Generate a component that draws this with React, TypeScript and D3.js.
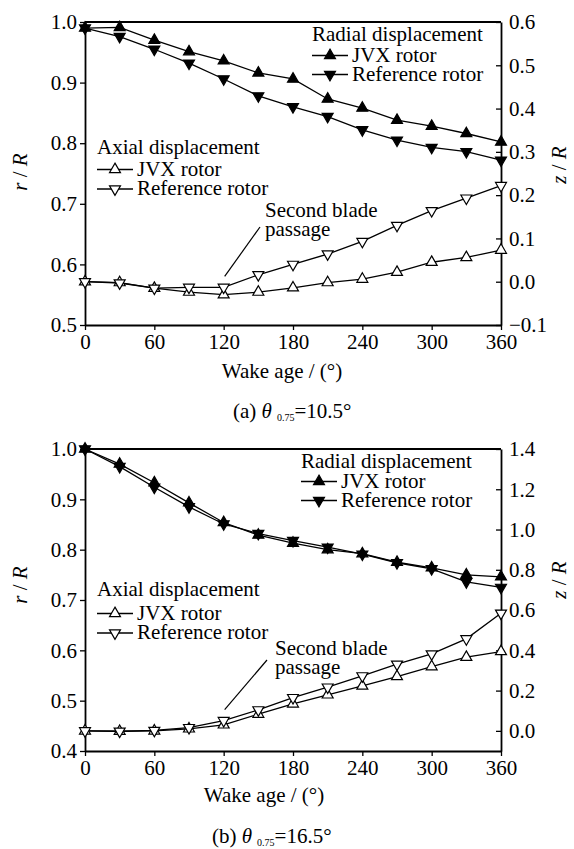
import React, { useEffect, useRef } from 'react';
import * as d3 from 'd3';

// wake age (deg) for every marker
const wakeAge = [0, 30, 60, 90, 120, 150, 180, 210, 240, 270, 300, 330, 360];
const xTicks = [0, 60, 120, 180, 240, 300, 360];

// (a) theta 0.75 = 10.5 deg
const radialJvxA = [0.99, 0.991, 0.97, 0.951, 0.936, 0.916, 0.906, 0.873, 0.858, 0.838, 0.828, 0.816, 0.802];
const radialRefA = [0.99, 0.976, 0.955, 0.932, 0.906, 0.878, 0.86, 0.844, 0.822, 0.805, 0.793, 0.786, 0.772];
const axialJvxA = [0.0, -0.002, -0.015, -0.024, -0.03, -0.024, -0.014, -0.002, 0.006, 0.022, 0.045, 0.056, 0.073];
const axialRefA = [0.0, -0.003, -0.015, -0.013, -0.013, 0.016, 0.04, 0.064, 0.093, 0.13, 0.164, 0.193, 0.222];
const rTicksA = [0.5, 0.6, 0.7, 0.8, 0.9, 1.0];
const zTicksA = [-0.1, 0.0, 0.1, 0.2, 0.3, 0.4, 0.5, 0.6];

// (b) theta 0.75 = 16.5 deg
const radialJvxB = [1.0, 0.97, 0.933, 0.893, 0.854, 0.829, 0.813, 0.8, 0.792, 0.775, 0.764, 0.75, 0.746];
const radialRefB = [1.0, 0.965, 0.924, 0.885, 0.851, 0.832, 0.818, 0.805, 0.791, 0.774, 0.762, 0.736, 0.725];
const axialJvxB = [0.0, -0.002, 0.0, 0.01, 0.03, 0.083, 0.134, 0.179, 0.223, 0.27, 0.319, 0.366, 0.394];
const axialRefB = [0.0, -0.002, 0.002, 0.016, 0.051, 0.104, 0.165, 0.217, 0.273, 0.331, 0.382, 0.457, 0.584];
const rTicksB = [0.4, 0.5, 0.6, 0.7, 0.8, 0.9, 1.0];
const zTicksB = [0.0, 0.2, 0.4, 0.6, 0.8, 1.0, 1.2, 1.4];

const width = 574;
const height = 849;
const FONT = "'Liberation Serif', Tinos, 'Times New Roman', Times, serif";
const FS = 21;

const panels = [
  {
    top: 22, bottom: 325,
    rDomain: [0.5, 1.0], rTicks: rTicksA, zDomain: [-0.1, 0.6], zTicks: zTicksA,
    radialJvx: radialJvxA, radialRef: radialRefA, axialJvx: axialJvxA, axialRef: axialRefA,
    radialLeg: { x: 312, y: 41, rows: [20.5, 39.5] },
    axialLeg: { x: 97, y: 154, rows: [21.5, 41] },
    note: { x: 265, y: 217, from: [260, 227] },
    xTitle: { x: 282, y: 378 },
    caption: { x: 233, y: 418, label: '(a) ', value: '=10.5°' },
    rLabelY: 172, zLabelY: 165,
  },
  {
    top: 449, bottom: 751,
    rDomain: [0.4, 1.0], rTicks: rTicksB, zDomain: [-0.1, 1.4], zTicks: zTicksB,
    radialJvx: radialJvxB, radialRef: radialRefB, axialJvx: axialJvxB, axialRef: axialRefB,
    radialLeg: { x: 301, y: 468, rows: [19.5, 38.5] },
    axialLeg: { x: 97, y: 596, rows: [23.5, 43] },
    note: { x: 275, y: 655, from: [267, 660] },
    xTitle: { x: 264, y: 802 },
    caption: { x: 212, y: 843, label: '(b) ', value: '=16.5°' },
    rLabelY: 585, zLabelY: 580,
  },
];

const left = 85;
const right = 501;

const App = () => {
  const ref = useRef<SVGSVGElement>(null);

  useEffect(() => {
    const svg = d3.select(ref.current);
    svg.selectAll('*').remove();

    const x = d3.scaleLinear().domain([0, 360]).range([left, right]);
    const triUp = d3.symbol().type(d3.symbolTriangle).size(52)();
    const fmt = d3.format('.1f');
    const tickFmt = (d: number) => (d < 0 ? '\u2212' + fmt(-d) : fmt(d));

    panels.forEach((p) => {
      const yR = d3.scaleLinear().domain(p.rDomain).range([p.bottom, p.top]);
      const yZ = d3.scaleLinear().domain(p.zDomain).range([p.bottom, p.top]);
      const g = svg.append('g');

      // frame top line
      g.append('line')
        .attr('x1', left).attr('x2', right)
        .attr('y1', p.top).attr('y2', p.top)
        .attr('stroke', '#000').attr('stroke-width', 1.8);

      // axes
      const axL = g.append('g').attr('transform', `translate(${left},0)`)
        .call(d3.axisLeft(yR).tickValues(p.rTicks).tickSize(5).tickSizeOuter(0).tickFormat(tickFmt as any));
      const axR = g.append('g').attr('transform', `translate(${right},0)`)
        .call(d3.axisRight(yZ).tickValues(p.zTicks).tickSizeInner(-5).tickSizeOuter(0).tickPadding(8).tickFormat(tickFmt as any));
      const axB = g.append('g').attr('transform', `translate(0,${p.bottom})`)
        .call(d3.axisBottom(x).tickValues(xTicks).tickSize(5).tickSizeOuter(0).tickPadding(4));

      [axL, axR, axB].forEach((a) => {
        a.attr('font-family', null).attr('font-size', null);
        a.selectAll('text').attr('fill', '#000');
        a.selectAll('path').attr('stroke', '#000').attr('stroke-width', 1.8);
        a.selectAll('line').attr('stroke', '#000').attr('stroke-width', 1.3);
      });

      // series
      const series = [
        { vals: p.axialJvx, y: yZ, filled: false, down: false },
        { vals: p.axialRef, y: yZ, filled: false, down: true },
        { vals: p.radialJvx, y: yR, filled: true, down: false },
        { vals: p.radialRef, y: yR, filled: true, down: true },
      ];

      series.forEach((s) => {
        const line = d3.line<number>()
          .x((_, i) => x(wakeAge[i]))
          .y((d) => s.y(d));
        g.append('path')
          .attr('d', line(s.vals))
          .attr('fill', 'none')
          .attr('stroke', '#000')
          .attr('stroke-width', 1.3);
      });

      series.forEach((s) => {
        g.selectAll(null)
          .data(s.vals)
          .enter().append('path')
          .attr('d', triUp)
          .attr('transform', (d, i) => `translate(${x(wakeAge[i])},${s.y(d)})${s.down ? ' rotate(180)' : ''}`)
          .attr('fill', s.filled ? '#000' : '#fff')
          .attr('stroke', '#000')
          .attr('stroke-width', 1.2);
      });

      // legends
      const drawLegend = (leg: any, title: string, filled: boolean) => {
        g.append('text')
          .attr('x', leg.x).attr('y', leg.y)
          .text(title);
        ['JVX rotor', 'Reference rotor'].forEach((name, i) => {
          const ty = leg.y + leg.rows[i];
          const ly = ty - 6;
          g.append('line')
            .attr('x1', leg.x).attr('x2', leg.x + 36)
            .attr('y1', ly).attr('y2', ly)
            .attr('stroke', '#000').attr('stroke-width', 1.3);
          g.append('path')
            .attr('d', triUp)
            .attr('transform', `translate(${leg.x + 18},${ly})${i === 1 ? ' rotate(180)' : ''}`)
            .attr('fill', filled ? '#000' : '#fff')
            .attr('stroke', '#000')
            .attr('stroke-width', 1.2);
          g.append('text')
            .attr('x', leg.x + 40).attr('y', ty)
            .text(name);
        });
      };
      drawLegend(p.radialLeg, 'Radial displacement', true);
      drawLegend(p.axialLeg, 'Axial displacement', false);

      // second blade passage note
      g.append('line')
        .attr('x1', p.note.from[0]).attr('y1', p.note.from[1])
        .attr('x2', x(120) + 1).attr('y2', yZ(p.axialRef[4]) - 11)
        .attr('stroke', '#000').attr('stroke-width', 1.2);
      g.append('text')
        .attr('x', p.note.x).attr('y', p.note.y)
        .text('Second blade');
      g.append('text')
        .attr('x', p.note.x).attr('y', p.note.y + 18.5)
        .text('passage');

      // axis titles
      g.append('text')
        .attr('x', p.xTitle.x).attr('y', p.xTitle.y)
        .attr('text-anchor', 'middle')
        .text('Wake age / (°)');

      const rl = g.append('text')
        .attr('transform', `translate(27,${p.rLabelY}) rotate(-90)`)
        .attr('text-anchor', 'middle');
      rl.append('tspan').attr('font-style', 'italic').text('r');
      rl.append('tspan').text(' / ');
      rl.append('tspan').attr('font-style', 'italic').text('R');

      const zl = g.append('text')
        .attr('transform', `translate(566,${p.zLabelY}) rotate(-90)`)
        .attr('text-anchor', 'middle');
      zl.append('tspan').attr('font-style', 'italic').text('z');
      zl.append('tspan').text(' / ');
      zl.append('tspan').attr('font-style', 'italic').text('R');

      // caption
      const cap = g.append('text')
        .attr('x', p.caption.x).attr('y', p.caption.y);
      cap.append('tspan').text(p.caption.label);
      cap.append('tspan').attr('font-style', 'italic').text('θ');
      cap.append('tspan').style('font-size', '10px').attr('dx', 5).attr('dy', 3).text('0.75');
      cap.append('tspan').attr('dy', -3).text(p.caption.value);
    });
  }, []);

  return (
    <svg
      ref={ref}
      width={width}
      height={height}
      style={{
        position: 'absolute', left: 0, top: 0, background: '#fff',
        fontFamily: FONT, fontSize: FS,
      }}
    />
  );
};

export default App;
